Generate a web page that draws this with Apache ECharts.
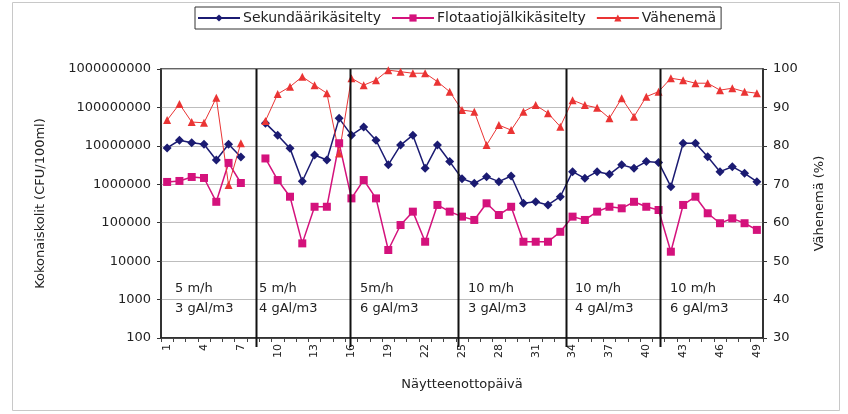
<!DOCTYPE html>
<html>
<head>
<meta charset="utf-8">
<script src="https://cdn.jsdelivr.net/npm/echarts@6/dist/echarts.min.js"></script>
<style>html,body{margin:0;padding:0;background:#fff}#c{width:848px;height:414px}</style>
</head>
<body>
<div id="c"></div>
<script>
// ---- data ----
const days = ['1','2','3','4','5','6','7','8','9','10','11','12','13','14','15','16','17','18','19','20','21','22','23','24','25','26','27','28','29','30','31','32','33','34','35','36','37','38','39','40','41','42','43','44','45','46','47','48','49'];

const sekundaari = [
  8800000, 14000000, 12000000, 11000000, 4300000, 11000000, 5100000,
  null,
  39000000, 19000000, 8600000, 1200000, 5800000, 4300000, 52000000,
  19000000, 31000000, 14000000, 3200000, 10500000, 19000000, 2600000, 10500000, 3900000,
  1400000, 1060000, 1580000, 1170000, 1640000, 320000, 350000, 290000, 475000,
  2130000, 1430000, 2130000, 1820000, 3200000, 2600000, 3900000, 3700000,
  865000, 11700000, 11700000, 5200000, 2130000, 2870000, 1930000, 1170000
];

const flotaatio = [
  1150000, 1220000, 1550000, 1460000, 350000, 3600000, 1080000,
  null,
  4700000, 1290000, 475000, 29000, 260000, 260000, 11700000,
  430000, 1290000, 430000, 19500, 87000, 194000, 32000, 290000, 194000,
  144000, 118000, 320000, 159000, 260000, 32000, 32000, 32000, 58000,
  144000, 118000, 194000, 260000, 237000, 350000, 260000, 214000,
  17600, 290000, 475000, 176000, 97000, 130000, 97000, 65000
];

const vahenema = [
  86.7, 90.9, 86.2, 86.0, 92.5, 69.8, 80.7,
  null,
  86.5, 93.5, 95.4, 98.0, 95.8, 93.7, 78.0,
  97.6, 95.8, 97.1, 99.7, 99.3, 98.9, 98.9, 96.7, 94.1,
  89.3, 88.9, 80.2, 85.4, 84.1, 88.9, 90.6, 88.5, 85.0,
  91.9, 90.6, 89.9, 87.2, 92.4, 87.6, 92.8, 94.1,
  97.6, 97.1, 96.3, 96.3, 94.5, 95.0, 94.1, 93.7
];

const seriesNames = ['Sekundäärikäsitelty', 'Flotaatiojälkikäsitelty', 'Vähenemä'];
const groupLabels = ['5 m/h\n3 gAl/m3', '5 m/h\n4 gAl/m3', '5m/h\n6 gAl/m3', '10 m/h\n3 gAl/m3', '10 m/h\n4 gAl/m3', '10 m/h\n6 gAl/m3'];

// ---- layout (not data) ----
const separatorCats = [8.2, 15.9, 24.7, 33.5, 41.15];
const labelLeft = [175, 259, 360, 468, 575, 670];
const FONT = 'DejaVu Sans';
const C_BLUE = '#1b1b72', C_PINK = '#d4127c', C_RED = '#ea3434';

const chart = echarts.init(document.getElementById('c'));
const option = {
  animation: false,
  backgroundColor: '#fff',
  grid: { left: 161, right: 85, top: 69, bottom: 76, show: true, borderColor: '#333', borderWidth: 1.5 },
  legend: {
    left: 195, top: 7, orient: 'horizontal',
    borderColor: '#333', borderWidth: 1, padding: [4, 5, 4, 2],
    itemGap: 10, itemWidth: 42, itemHeight: 9,
    textStyle: { fontFamily: FONT, fontSize: 14, color: '#222', padding: [0, 0, 0, -2] },
    data: seriesNames
  },
  xAxis: {
    type: 'category', data: days, boundaryGap: true,
    name: 'Näytteenottopäivä', nameLocation: 'middle', nameGap: 40,
    nameTextStyle: { fontFamily: FONT, fontSize: 13, color: '#222' },
    axisLine: { lineStyle: { color: '#222', width: 1.5 } },
    axisTick: { show: true, interval: 0, length: 4, lineStyle: { color: '#444' } },
    axisLabel: { interval: 2, rotate: 90, fontFamily: FONT, fontSize: 11, color: '#222', margin: 6 },
    splitLine: { show: false }
  },
  yAxis: [
    {
      type: 'log', logBase: 10, min: 100, max: 1000000000, position: 'left',
      name: 'Kokonaiskolit (CFU/100ml)', nameLocation: 'middle', nameGap: 114, nameRotate: 90,
      nameTextStyle: { fontFamily: FONT, fontSize: 13, color: '#222' },
      axisLine: { show: true, lineStyle: { color: '#222', width: 1.5 } },
      axisTick: { show: true, length: 4, inside: false, lineStyle: { color: '#333' } },
      axisLabel: { fontFamily: FONT, fontSize: 13, color: '#222', margin: 10,
        formatter: v => String(Math.round(v)) },
      splitLine: { show: true, lineStyle: { color: '#bdbdbd', width: 1 } },
      minorTick: { show: false }
    },
    {
      type: 'value', min: 30, max: 100, interval: 10, position: 'right',
      name: 'Vähenemä (%)', nameLocation: 'middle', nameGap: 50, nameRotate: 90,
      nameTextStyle: { fontFamily: FONT, fontSize: 13, color: '#222' },
      axisLine: { show: true, lineStyle: { color: '#222', width: 1.5 } },
      axisTick: { show: true, length: 4, lineStyle: { color: '#333' } },
      axisLabel: { fontFamily: FONT, fontSize: 13, color: '#222', margin: 10 },
      splitLine: { show: false }
    }
  ],
  series: [
    {
      name: seriesNames[0], type: 'line', yAxisIndex: 0, data: sekundaari,
      symbol: 'diamond', symbolSize: 9, showAllSymbol: true, connectNulls: false,
      lineStyle: { color: C_BLUE, width: 1.5 }, itemStyle: { color: C_BLUE }
    },
    {
      name: seriesNames[1], type: 'line', yAxisIndex: 0, data: flotaatio,
      symbol: 'rect', symbolSize: 8, showAllSymbol: true, connectNulls: false,
      lineStyle: { color: C_PINK, width: 1.5 }, itemStyle: { color: C_PINK }
    },
    {
      name: seriesNames[2], type: 'line', yAxisIndex: 1, data: vahenema,
      symbol: 'triangle', symbolSize: 8, showAllSymbol: true, connectNulls: false,
      lineStyle: { color: C_RED, width: 1 }, itemStyle: { color: C_RED }
    }
  ]
};
chart.setOption(option);

function catX(c) {
  const i = c - 1;
  const i0 = Math.floor(i);
  const i1 = Math.min(i0 + 1, days.length - 1);
  const x0 = chart.convertToPixel({ xAxisIndex: 0 }, i0);
  const x1 = chart.convertToPixel({ xAxisIndex: 0 }, i1);
  return x0 + (x1 - x0) * (i - i0);
}
const yTop = chart.convertToPixel({ yAxisIndex: 0 }, 1000000000);
const yBot = chart.convertToPixel({ yAxisIndex: 0 }, 100);

const graphics = [
  { type: 'rect', shape: { x: 12.5, y: 2.5, width: 827, height: 408 },
    style: { fill: null, stroke: '#c8c8c8', lineWidth: 1 }, silent: true, z: 0 }
];
separatorCats.forEach(c => {
  const x = Math.round(catX(c)) + 0.5;
  graphics.push({ type: 'line', shape: { x1: x, y1: yTop, x2: x, y2: yBot + 9 },
    style: { stroke: '#111', lineWidth: 2 }, silent: true, z: 50 });
});
groupLabels.forEach((t, k) => {
  graphics.push({ type: 'text', x: labelLeft[k], y: 279,
    style: { text: t, fontFamily: FONT, fontSize: 13, lineHeight: 20, fill: '#222' }, silent: true, z: 50 });
});
chart.setOption({ graphic: graphics });
</script>
</body>
</html>
